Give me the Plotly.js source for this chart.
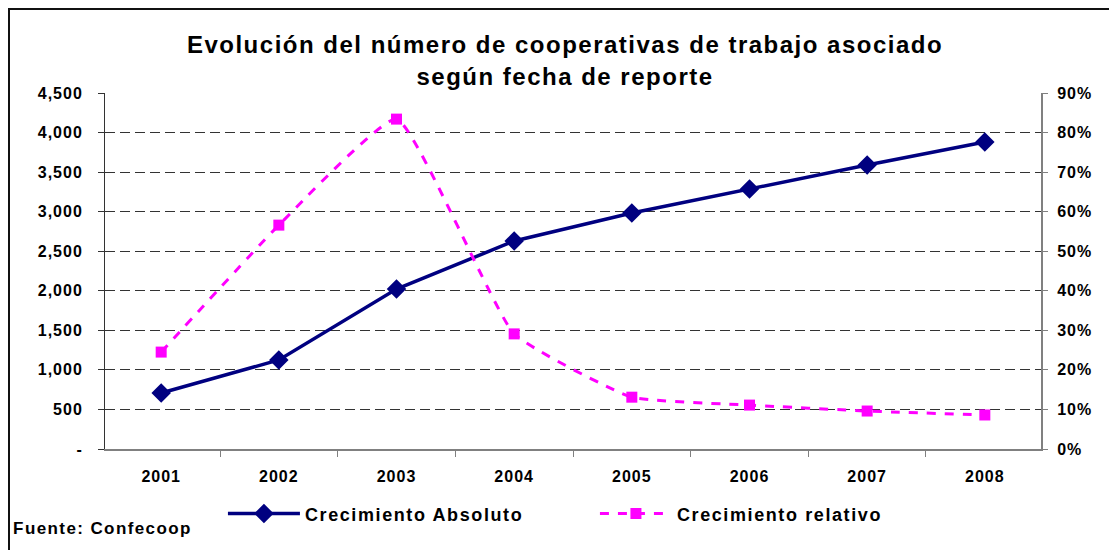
<!DOCTYPE html>
<html>
<head>
<meta charset="utf-8">
<script src="https://cdn.plot.ly/plotly-3.0.1.min.js"></script>
<style>
  body { margin: 0; background: #fff; }
  #frame { position: absolute; left: 8px; top: 8px; width: 1200px; height: 600px; border: 2px solid #111; }
  #plot { position: absolute; left: 0; top: 0; width: 1109px; height: 550px; }
  #plot .gtitle { letter-spacing: 1.5px; }
  #plot .xtick text, #plot .ytick text, #plot .y2tick text { letter-spacing: 1px; }
  #plot .legendtext { letter-spacing: 1.6px; }
  #plot .annotation-text { letter-spacing: 1.4px; }
</style>
</head>
<body>
<div id="frame"></div>
<div id="plot"></div>
<script>
const years = ['2001', '2002', '2003', '2004', '2005', '2006', '2007', '2008'];
const absoluto = [708, 1125, 2022, 2629, 2983, 3287, 3590, 3881];
const relativo = [0.245, 0.566, 0.834, 0.291, 0.131, 0.111, 0.096, 0.086];

const leftTicks = [0, 500, 1000, 1500, 2000, 2500, 3000, 3500, 4000, 4500];
const leftLabels = ['-', '500', '1,000', '1,500', '2,000', '2,500', '3,000', '3,500', '4,000', '4,500'];
const rightTicks = [0, 0.1, 0.2, 0.3, 0.4, 0.5, 0.6, 0.7, 0.8, 0.9];
const rightLabels = ['0%', '10%', '20%', '30%', '40%', '50%', '60%', '70%', '80%', '90%'];

const fontFam = 'Liberation Sans, Arial, sans-serif';
const tickFont = { family: fontFam, size: 16, color: '#000', weight: 'bold' };

const trace1 = {
  x: years,
  y: absoluto,
  name: 'Crecimiento Absoluto',
  type: 'scatter',
  mode: 'lines+markers',
  line: { color: '#000080', width: 3.5 },
  marker: { symbol: 'diamond', size: 15, color: '#000080' }
};

const trace2 = {
  x: years,
  y: relativo,
  name: 'Crecimiento relativo',
  type: 'scatter',
  mode: 'lines+markers',
  yaxis: 'y2',
  line: { color: '#ff00ff', width: 3, dash: 'dash', shape: 'spline', smoothing: 0.4 },
  marker: { symbol: 'square', size: 11, color: '#ff00ff' }
};

const layout = {
  width: 1109,
  height: 550,
  margin: { l: 105, r: 68, t: 93, b: 101 },
  paper_bgcolor: 'rgba(0,0,0,0)',
  plot_bgcolor: 'rgba(0,0,0,0)',
  title: {
    text: 'Evolución del número de cooperativas de trabajo asociado<br>según fecha de reporte',
    font: { family: fontFam, size: 24, color: '#000', weight: 'bold' },
    x: 0.5095, xanchor: 'center', y: 0.903, yanchor: 'middle'
  },
  xaxis: {
    type: 'category',
    tickson: 'boundaries',
    ticks: 'outside', ticklen: 6, tickcolor: '#808080',
    showline: true, linecolor: '#808080', linewidth: 2,
    showgrid: false,
    tickfont: tickFont,
    ticklabelstandoff: 12,
    fixedrange: true
  },
  yaxis: {
    range: [0, 4500],
    tickvals: leftTicks, ticktext: leftLabels,
    ticks: 'outside', ticklen: 6, tickcolor: '#333',
    showline: true, linecolor: '#333', linewidth: 1,
    showgrid: true, gridcolor: '#333', griddash: '10px,5px', gridwidth: 1,
    zeroline: false,
    tickfont: tickFont,
    ticklabelstandoff: 12
  },
  yaxis2: {
    overlaying: 'y', side: 'right',
    range: [0, 0.9],
    tickvals: rightTicks, ticktext: rightLabels,
    ticks: 'outside', ticklen: 5, tickcolor: '#808080',
    showline: true, linecolor: '#808080', linewidth: 2,
    showgrid: false, zeroline: false,
    tickfont: tickFont,
    ticklabelstandoff: 6
  },
  showlegend: true,
  legend: {
    orientation: 'h',
    x: 0.126, xanchor: 'left',
    y: -0.13, yanchor: 'top',
    font: { family: fontFam, size: 18, color: '#000', weight: 'bold' },
    itemwidth: 72,
    entrywidth: 285
  },
  annotations: [{
    text: 'Fuente: Confecoop',
    xref: 'paper', yref: 'paper',
    x: -0.088, y: -0.222, xanchor: 'left', yanchor: 'middle',
    showarrow: false,
    font: { family: fontFam, size: 17, color: '#000', weight: 'bold' }
  }]
};

Plotly.newPlot('plot', [trace1, trace2], layout, { displayModeBar: false, staticPlot: true });
</script>
</body>
</html>
